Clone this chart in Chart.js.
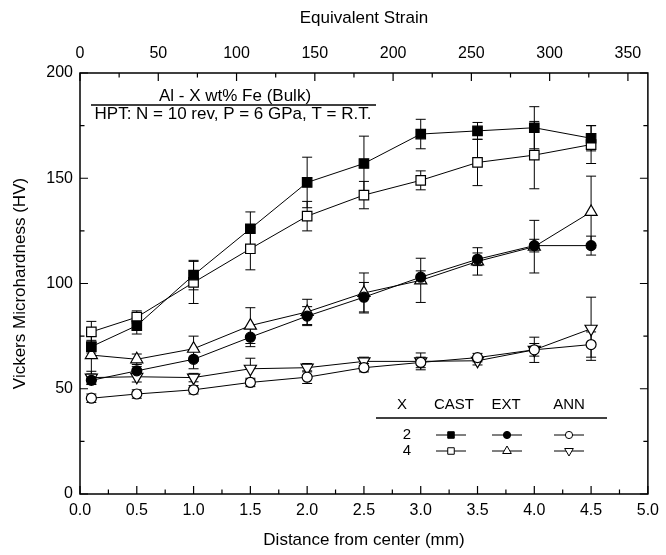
<!DOCTYPE html>
<html>
<head>
<meta charset="utf-8">
<script src="https://cdn.jsdelivr.net/npm/chart.js@4.4.1/dist/chart.umd.min.js"></script>
<style>
html, body { margin: 0; padding: 0; background: #fff; }
</style>
</head>
<body>
<canvas id="myChart" width="666" height="555"></canvas>
<script>
// distance from center (mm)
var distance = [0.1, 0.5, 1.0, 1.5, 2.0, 2.5, 3.0, 3.5, 4.0, 4.5];

// Vickers microhardness (HV) and error bars
var castX2 = [70, 80, 104, 126, 148, 157, 171, 172.5, 174, 169];
var castX2Err = [3, 4, 7, 8, 12, 13, 7, 4, 10, 6];
var castX4 = [77, 84, 100.5, 116.5, 132, 142, 149, 157.5, 161, 166];
var castX4Err = [5, 3, 10, 10, 7, 6.5, 4.5, 11, 16, 9];
var extX2 = [54, 58.5, 64, 74.5, 84.5, 93.5, 103, 111.5, 118, 118];
var extX2Err = [2, 2, 4.5, 4.5, 4.5, 7, 3, 3, 3, 4.5];
var extX4 = [66, 64, 69, 80, 86.5, 95.5, 101.5, 110.5, 117.5, 134];
var extX4Err = [9, 2.5, 6, 8.5, 6, 9.5, 10.5, 6.5, 12.5, 17];
var annX2 = [45.5, 47.5, 49.5, 53, 55.5, 60, 62.5, 64.8, 68.5, 71];
var annX2Err = [2, 2, 2, 2, 3, 2, 2.5, 2, 3, 6];
var annX4 = [55.3, 55.7, 55.3, 59.5, 60, 63, 63, 63.3, 68.5, 78.5];
var annX4Err = [3, 2.5, 2, 5, 2, 2, 4, 2, 6, 15];

// top axis: equivalent strain, 72.55 per mm (N = 10, h = 0.5 mm)
var strainPerMm = 72.55;
var strainTicks = [0, 50, 100, 150, 200, 250, 300, 350];

var titleLines = ['Al - X wt% Fe (Bulk)', 'HPT: N = 10 rev, P = 6 GPa, T = R.T.'];
var legendCols = ['CAST', 'EXT', 'ANN'];
var legendRows = ['2', '4'];

Chart.defaults.font.family = "'Liberation Sans', Arial, sans-serif";
Chart.defaults.color = '#000';

function pts(values) {
    var out = [];
    for (var i = 0; i < distance.length; i++) {
        out.push({ x: distance[i], y: values[i] });
    }
    return out;
}

function series(label, values, errs, style, fill, radius, rotation) {
    return {
        label: label,
        data: pts(values),
        errors: errs,
        showLine: true,
        borderColor: '#000',
        borderWidth: 1,
        backgroundColor: fill,
        pointStyle: style,
        pointRadius: radius,
        pointRotation: rotation || 0,
        pointBackgroundColor: fill,
        pointBorderColor: '#000',
        pointBorderWidth: 1.2,
        fill: false,
        tension: 0
    };
}

var datasets = [
    series('CAST 2', castX2, castX2Err, 'rect', '#000', 6.7),
    series('CAST 4', castX4, castX4Err, 'rect', '#fff', 6.7),
    series('EXT 2', extX2, extX2Err, 'circle', '#000', 5),
    series('EXT 4', extX4, extX4Err, 'triangle', '#fff', 7),
    series('ANN 2', annX2, annX2Err, 'circle', '#fff', 5),
    series('ANN 4', annX4, annX4Err, 'triangle', '#fff', 7, 180)
];

// small marker drawing for the legend table
function marker(ctx, style, fill, cx, cy, r, rot) {
    ctx.save();
    ctx.beginPath();
    if (style === 'rect') {
        var s = r * Math.SQRT1_2;
        ctx.rect(cx - s, cy - s, 2 * s, 2 * s);
    } else if (style === 'circle') {
        ctx.arc(cx, cy, r, 0, Math.PI * 2);
    } else {
        var a = (rot || 0) * Math.PI / 180;
        for (var k = 0; k < 3; k++) {
            var px = cx + Math.sin(a) * r;
            var py = cy - Math.cos(a) * r;
            if (k === 0) ctx.moveTo(px, py); else ctx.lineTo(px, py);
            a += Math.PI * 2 / 3;
        }
        ctx.closePath();
    }
    ctx.fillStyle = fill;
    ctx.fill();
    ctx.lineWidth = 1;
    ctx.strokeStyle = '#000';
    ctx.stroke();
    ctx.restore();
}

var errorBars = {
    id: 'errorBars',
    beforeDatasetsDraw: function(chart) {
        var ctx = chart.ctx;
        var xs = chart.scales.x, ys = chart.scales.y;
        ctx.save();
        ctx.strokeStyle = '#000';
        ctx.lineWidth = 1;
        chart.data.datasets.forEach(function(ds) {
            ds.data.forEach(function(p, i) {
                var e = ds.errors[i];
                var px = xs.getPixelForValue(p.x);
                var t = ys.getPixelForValue(p.y + e);
                var b = ys.getPixelForValue(p.y - e);
                ctx.beginPath();
                ctx.moveTo(px, t); ctx.lineTo(px, b);
                ctx.moveTo(px - 5, t); ctx.lineTo(px + 5, t);
                ctx.moveTo(px - 5, b); ctx.lineTo(px + 5, b);
                ctx.stroke();
            });
        });
        ctx.restore();
    }
};

var frame = {
    id: 'frame',
    afterDraw: function(chart) {
        var ctx = chart.ctx;
        var a = chart.chartArea;
        var xs = chart.scales.x, ys = chart.scales.y, x2 = chart.scales.x2;
        ctx.save();
        ctx.strokeStyle = '#000';
        ctx.lineWidth = 1.5;
        ctx.strokeRect(a.left, a.top, a.right - a.left, a.bottom - a.top);

        ctx.lineWidth = 1.2;
        ctx.beginPath();
        var v, p, len;
        // bottom ticks
        for (v = 0; v <= 5.001; v += 0.25) {
            p = xs.getPixelForValue(v);
            len = (Math.round(v * 4) % 2 === 0) ? 8 : 4.5;
            ctx.moveTo(p, a.bottom); ctx.lineTo(p, a.bottom - len);
        }
        // top ticks (strain)
        for (v = 0; v <= x2.max; v += 25) {
            p = x2.getPixelForValue(v);
            len = (v % 50 === 0) ? 8 : 4.5;
            ctx.moveTo(p, a.top); ctx.lineTo(p, a.top + len);
        }
        // left and right ticks
        for (v = 0; v <= 200; v += 25) {
            p = ys.getPixelForValue(v);
            len = (v % 50 === 0) ? 8 : 4.5;
            ctx.moveTo(a.left, p); ctx.lineTo(a.left + len, p);
            ctx.moveTo(a.right, p); ctx.lineTo(a.right - len, p);
        }
        ctx.stroke();

        // title box inside the plot
        ctx.fillStyle = '#000';
        ctx.textAlign = 'center';
        ctx.textBaseline = 'middle';
        ctx.font = "17px 'Liberation Sans', Arial, sans-serif";
        ctx.fillText(titleLines[0], a.left + 155, a.top + 23);
        ctx.fillText(titleLines[1], a.left + 153, a.top + 41);
        ctx.lineWidth = 1.3;
        ctx.beginPath();
        ctx.moveTo(a.left + 11, a.top + 32);
        ctx.lineTo(a.left + 296, a.top + 32);
        ctx.stroke();

        // legend table
        var lx = a.left, ly = a.top;
        var colX = [374, 426, 489];
        ctx.font = "15px 'Liberation Sans', Arial, sans-serif";
        ctx.fillText('X', lx + 322, ly + 332);
        for (var c = 0; c < legendCols.length; c++) {
            ctx.fillText(legendCols[c], lx + colX[c], ly + 332);
        }
        ctx.beginPath();
        ctx.moveTo(lx + 296, ly + 345);
        ctx.lineTo(lx + 527, ly + 345);
        ctx.stroke();

        var symX = [371, 427, 489];
        var rowY = [362, 378];
        var styles = [
            [['rect', '#000', 4.6, 0], ['circle', '#000', 3.6, 0], ['circle', '#fff', 3.6, 0]],
            [['rect', '#fff', 4.6, 0], ['triangle', '#fff', 5, 0], ['triangle', '#fff', 5, 180]]
        ];
        ctx.lineWidth = 1;
        for (var r = 0; r < legendRows.length; r++) {
            ctx.fillText(legendRows[r], lx + 327, ly + rowY[r]);
            for (c = 0; c < 3; c++) {
                var sx = lx + symX[c], sy = ly + rowY[r];
                ctx.beginPath();
                ctx.moveTo(sx - 15, sy); ctx.lineTo(sx + 15, sy);
                ctx.stroke();
                var st = styles[r][c];
                marker(ctx, st[0], st[1], sx, sy, st[2], st[3]);
            }
        }
        ctx.restore();
    }
};

var ctx = document.getElementById('myChart').getContext('2d');
var myChart = new Chart(ctx, {
    type: 'scatter',
    data: { datasets: datasets },
    options: {
        responsive: false,
        animation: false,
        layout: { padding: { left: 0, right: 13, top: 0, bottom: 0 } },
        plugins: {
            legend: { display: false },
            tooltip: { enabled: false }
        },
        scales: {
            x: {
                type: 'linear',
                position: 'bottom',
                min: 0,
                max: 5,
                grid: { display: false, drawTicks: false },
                border: { display: false },
                ticks: {
                    stepSize: 0.5,
                    padding: 7,
                    font: { size: 16 },
                    callback: function(v) { return v.toFixed(1); }
                },
                title: {
                    display: true,
                    text: 'Distance from center (mm)',
                    font: { size: 17 },
                    padding: { top: 0, bottom: 4 }
                },
                afterFit: function(scale) { scale.height = 61; }
            },
            x2: {
                type: 'linear',
                position: 'top',
                min: 0,
                max: 5 * strainPerMm,
                grid: { display: false, drawTicks: false },
                border: { display: false },
                ticks: { padding: 10, font: { size: 16 }, autoSkip: false },
                afterBuildTicks: function(axis) {
                    axis.ticks = strainTicks.map(function(v) { return { value: v }; });
                },
                title: {
                    display: true,
                    text: 'Equivalent Strain',
                    font: { size: 17 },
                    padding: { top: 8, bottom: 0 }
                },
                afterFit: function(scale) { scale.height = 73; }
            },
            y: {
                min: 0,
                max: 200,
                grid: { display: false, drawTicks: false },
                border: { display: false },
                ticks: { stepSize: 50, padding: 7, font: { size: 16 } },
                title: {
                    display: true,
                    text: 'Vickers Microhardness (HV)',
                    font: { size: 17 },
                    padding: { top: 10, bottom: 0 }
                },
                afterFit: function(scale) { scale.width = 80; }
            }
        }
    },
    plugins: [errorBars, frame]
});
</script>
</body>
</html>
